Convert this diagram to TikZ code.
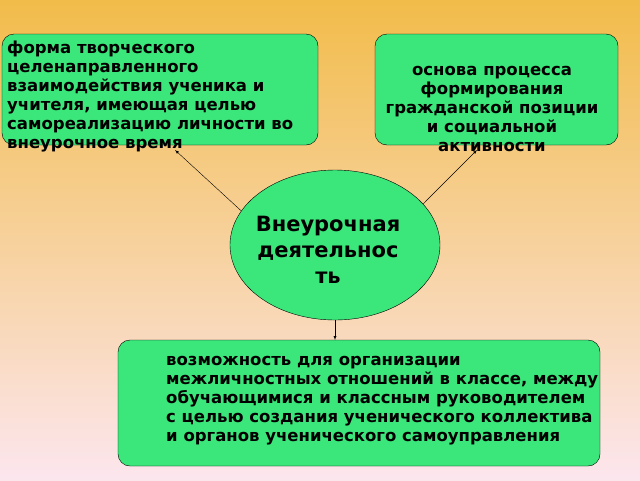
\documentclass[tikz,border=0pt]{standalone}
\usepackage{fontspec}
\setmainfont{DejaVu Sans}
\usetikzlibrary{shapes.geometric}
\definecolor{boxgreen}{HTML}{3BE67A}
\definecolor{topbg}{HTML}{F2BC4A}
\definecolor{botbg}{HTML}{FCE6EE}
\tikzset{
  box/.style={draw=black,fill=boxgreen,rounded corners=12pt,thin},
  boxtext/.style={font=\bfseries\fontsize{16.5}{19}\selectfont,inner sep=0pt},
  link/.style={draw=black,thin,-latex}
}

\begin{document}
\begin{tikzpicture}[x=1pt,y=-1pt]
    \shade[top color=topbg,bottom color=botbg] (0,0) rectangle (640,480);
    \useasboundingbox (0,0) rectangle (640,480);
    % boxes
    \draw[box] (2,34) rectangle (318,145);
    \draw[box] (375,34) rectangle (618,145);
    \draw[box] (118,340) rectangle (600,466);
    \node[ellipse,draw=black,fill=boxgreen,minimum width=210pt,minimum height=150pt] (core) at (335,245) {};
    % texts
    \node[boxtext,anchor=north west,align=left] (form) at (7,41)
        {форма творческого\\целенаправленного\\взаимодействия ученика и\\учителя, имеющая целью\\самореализацию личности во\\внеурочное время};
    \node[boxtext,align=center] (base) at (492,109)
        {основа процесса\\формирования\\гражданской позиции\\и социальной\\активности};
    \node[boxtext,anchor=north west,align=left] (chance) at (166,356)
        {возможность для организации\\межличностных отношений в классе, между\\обучающимися и классным руководителем\\с целью создания ученического коллектива\\и органов ученического самоуправления};
    \node[font=\bfseries\fontsize{21}{26}\selectfont,align=center] (title) at (328,250)
        {Внеурочная\\деятельнос\\ть};
    % arrows
    \coordinate (a1) at (175,150);
    \coordinate (a2) at (477,150);
    \coordinate (a3) at (335,340);
    \draw[link] (core.160) -- (a1);
    \draw[link] (core.25) -- (a2);
    \draw[link] (core.south) -- (a3);
\end{tikzpicture}
\end{document}
